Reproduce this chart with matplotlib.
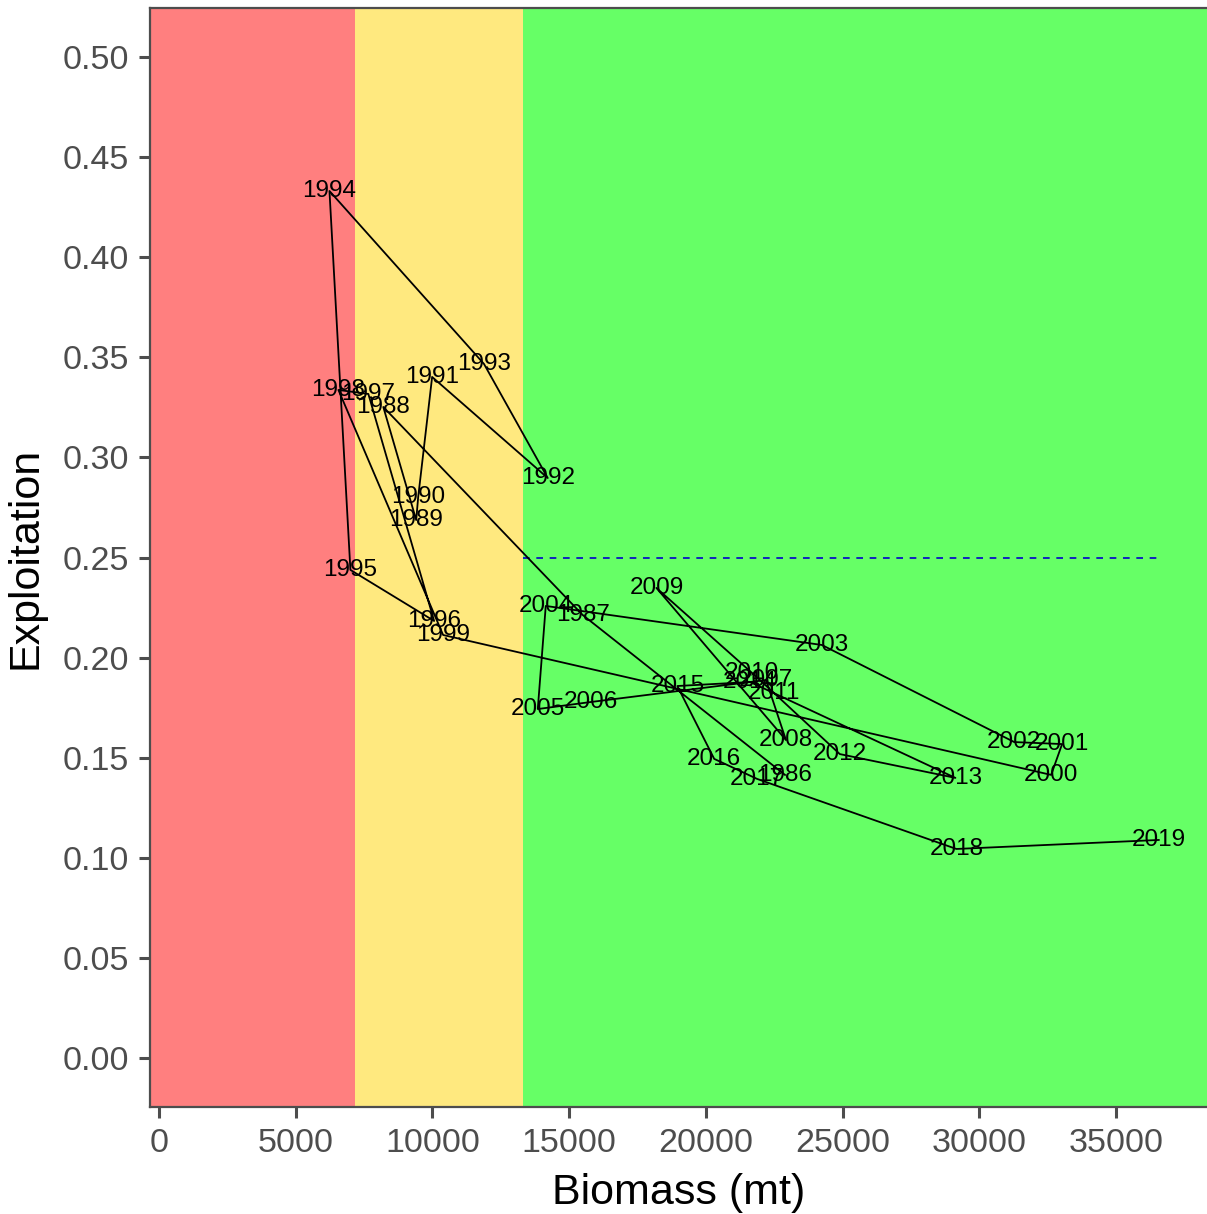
import matplotlib
matplotlib.use('Agg')
import matplotlib.pyplot as plt

plt.rcParams['font.family'] = ['Liberation Sans', 'DejaVu Sans']

# Data (biomass in mt, exploitation rate)
years = list(range(1986, 2020))
biomass = [22895, 15494, 8203, 9406, 9479, 9989, 14218, 11885, 6234, 7000,
           10062, 7656, 6562, 10390, 32629, 33030, 31280, 24243, 14145, 13853,
           15786, 22202, 22931, 18192, 21692, 22494, 24900, 29129, 21619, 18957,
           20306, 21874, 29165, 36566]
exploitation = [0.1414, 0.2213, 0.3252, 0.2687, 0.2802, 0.3402, 0.2897, 0.3467, 0.4331, 0.2438,
                0.2183, 0.3317, 0.3337, 0.2113, 0.1414, 0.1568, 0.1578, 0.2063, 0.2258, 0.1743,
                0.1778, 0.1888, 0.1588, 0.2348, 0.1923, 0.1823, 0.1518, 0.1399, 0.1878, 0.1858,
                0.1494, 0.1394, 0.1044, 0.1089]

# reference points
b_limit = 7150
b_target = 13300
f_target = 0.25

fig = plt.figure(figsize=(12.07, 12.14), dpi=100)
ax = fig.add_axes([150/1207, (1214-1107)/1214, (1207-150)/1207, (1107-8)/1214])

x_lo, x_hi = -330, 38330
ax.axvspan(x_lo, b_limit, color='#FF7F7F', lw=0)
ax.axvspan(b_limit, b_target, color='#FFE97F', lw=0)
ax.axvspan(b_target, x_hi, color='#66FF66', lw=0)

ax.plot([b_target, max(biomass)], [f_target, f_target], color='#0000CC',
        linestyle=(0, (4, 4)), lw=1.2)

ax.plot(biomass, exploitation, color='black', lw=1.3)
for yr, b, e in zip(years, biomass, exploitation):
    ax.text(b, e, str(yr), ha='center', va='center', fontsize=17.5, color='black')

ax.set_xlim(x_lo, x_hi)
ax.set_ylim(-0.0245, 0.5245)
ax.set_xticks(range(0, 35001, 5000))
ax.set_yticks([i * 0.05 for i in range(11)])
ax.set_yticklabels([f'{i * 0.05:.2f}' for i in range(11)])

ax.set_xlabel('Biomass (mt)', fontsize=31, labelpad=10)
ax.set_ylabel('Exploitation', fontsize=31, labelpad=12)
ax.tick_params(axis='both', labelsize=24.5, colors='#4D4D4D', length=8, width=2.2,
               labelcolor='#4D4D4D', pad=7)
for side in ['left', 'bottom', 'top']:
    ax.spines[side].set_color('#4D4D4D')
    ax.spines[side].set_linewidth(1.6)
ax.spines['right'].set_visible(False)

fig.savefig('out.png', dpi=100)
